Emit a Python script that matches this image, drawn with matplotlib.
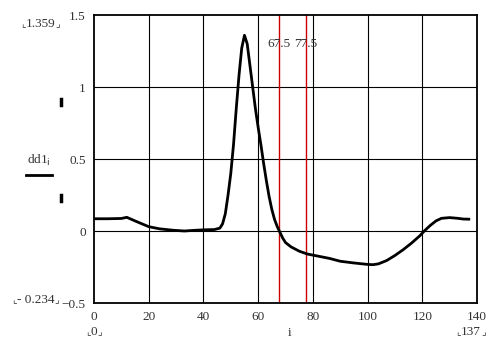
import numpy as np
import matplotlib
matplotlib.use('Agg')
import matplotlib.pyplot as plt

# sample index and dd1 values
i_vals = [0, 5, 10, 12, 15, 20, 24, 29, 33, 37, 40, 44, 46, 47, 48, 49, 50, 51, 52, 53, 54, 55,
          56, 57, 58, 59, 60, 61, 62, 63, 64, 65, 66, 67, 68, 69, 70, 72, 75, 78, 82, 86, 90, 95,
          100, 102, 104, 107, 110, 113, 116, 119, 121, 123, 125, 127, 130, 133, 135, 137]
dd1 = [0.085, 0.085, 0.087, 0.095, 0.07, 0.03, 0.015, 0.005, 0.0, 0.005, 0.008, 0.01, 0.02, 0.05,
       0.12, 0.25, 0.4, 0.6, 0.85, 1.08, 1.27, 1.359,
       1.3, 1.15, 1.0, 0.85, 0.72, 0.6, 0.47, 0.35, 0.24, 0.15, 0.08, 0.03, -0.01, -0.05, -0.08,
       -0.11, -0.14, -0.16, -0.175, -0.19, -0.21, -0.222,
       -0.232, -0.234, -0.228, -0.205, -0.17, -0.13, -0.085, -0.035, 0.005, 0.04, 0.07, 0.088,
       0.093, 0.088, 0.083, 0.082]

markers = [67.5, 77.5]
xticks = [0, 20, 40, 60, 80, 100, 120, 140]
yticks = [-0.5, 0, 0.5, 1, 1.5]

plt.rcParams['font.family'] = ['Liberation Serif', 'DejaVu Sans']
plt.rcParams['font.size'] = 9.5

fig = plt.figure(figsize=(5.03, 3.55), dpi=100)
ax = fig.add_axes([94/503, 1 - 303/355, 383/503, 288/355])

for x in xticks[1:-1]:
    ax.axvline(x, color='black', lw=0.8, zorder=1)
for y in yticks[1:-1]:
    ax.axhline(y, color='black', lw=0.8, zorder=1)
for m in markers:
    ax.axvline(m, color='#cc0000', lw=1.0, zorder=1)
    ax.text(m, 1.30, str(m), ha='center', va='center', color='#333333')

ax.plot(i_vals, dd1, color='black', lw=2.0, zorder=3)

ax.set_xlim(0, 140)
ax.set_ylim(-0.5, 1.5)
ax.set_xticks(xticks)
ax.set_yticks(yticks)
ax.set_xticklabels([str(v) for v in xticks])
ax.set_yticklabels(['\u22120.5', '0', '0.5', '1', '1.5'])
ax.tick_params(length=0, pad=6, colors='#333333')
for s in ax.spines.values():
    s.set_linewidth(1.3)


def bracketed(xc, yc, s):
    # value text with small Mathcad corner marks at either side
    t = fig.text(xc, yc, s, ha='center', va='center', color='#333333')
    fig.canvas.draw()
    bb = t.get_window_extent().transformed(fig.transFigure.inverted())
    fig.text(bb.x0, yc, '\u231e', ha='right', va='center', color='#333333', fontsize=7,
             family='DejaVu Sans')
    fig.text(bb.x1, yc, '\u231f', ha='left', va='center', color='#333333', fontsize=7,
             family='DejaVu Sans')


bracketed(41/503, 1 - 24/355, '1.359')
bracketed(36/503, 1 - 300/355, '- 0.234')
bracketed(94/503, 1 - 332/355, '0')
bracketed(471/503, 1 - 332/355, '137')
fig.text(290/503, 1 - 333/355, 'i', ha='center', va='center', color='#333333')
fig.text(39/503, 1 - 160/355, r'dd1$_\mathrm{i}$', ha='center', va='center', color='#333333')
fig.add_artist(plt.Line2D([26/503, 52/503], [1 - 175/355, 1 - 175/355], color='black', lw=2))
for yy in [102, 198]:
    fig.add_artist(plt.Line2D([61/503, 61/503], [1 - (yy - 3)/355, 1 - (yy + 3)/355],
                              color='black', lw=2.5))

fig.savefig('out.png', dpi=100)
